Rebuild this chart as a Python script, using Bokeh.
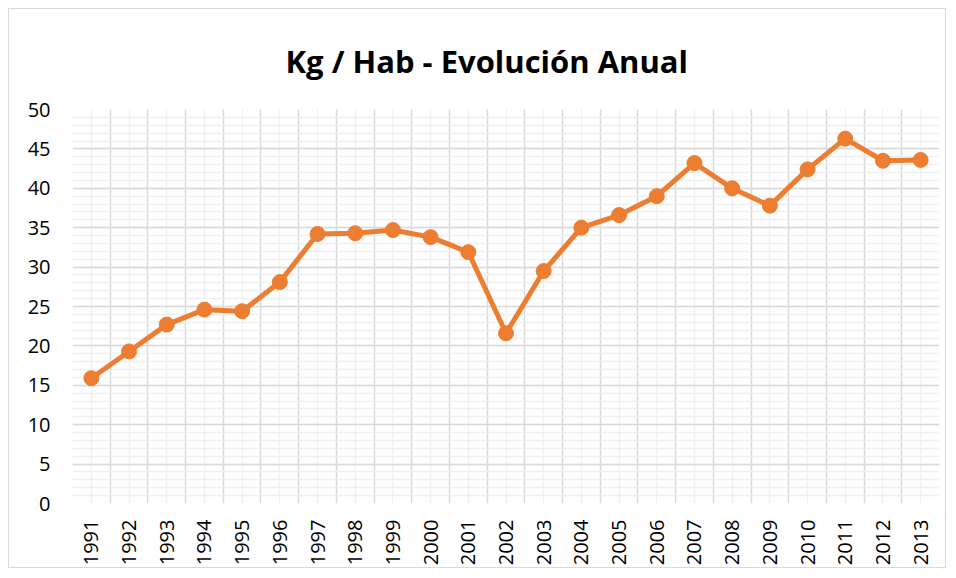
import math
from bokeh.plotting import figure
from bokeh.models import (ColumnDataSource, Range1d, FixedTicker, SingleIntervalTicker,
                          Grid, Title)
from bokeh.embed import file_html
from bokeh.resources import INLINE

years = list(range(1991, 2014))
kg_hab = [15.9, 19.3, 22.7, 24.6, 24.4, 28.1, 34.2, 34.3, 34.7, 33.8, 31.9, 21.6,
          29.5, 35.0, 36.6, 39.0, 43.2, 40.0, 37.8, 42.4, 46.3, 43.5, 43.6]
y_ticks = list(range(0, 51, 5))
title_text = "Kg / Hab - Evolución Anual"

FONT = "Open Sans"
ORANGE = "#ED7D31"

src = ColumnDataSource(data=dict(year=years, val=kg_hab))

p = figure(width=938, height=560, output_backend="svg", toolbar_location=None,
           x_range=Range1d(years[0] - 0.5, years[-1] + 0.5),
           y_range=Range1d(0, 50),
           min_border_left=63, min_border_right=8, min_border_top=99, min_border_bottom=66)
p.styles = {"border": "1px solid #d9d9d9", "margin-left": "8px", "margin-top": "8px"}
p.outline_line_color = None
p.background_fill_color = "white"
p.border_fill_color = "white"

p.title = Title(text=title_text, align="left", text_font=FONT, text_font_size="31px",
                text_font_style="bold", text_color="#000000", standoff=56, offset=213)

p.xgrid.visible = False
p.ygrid.visible = False

boundaries = [y - 0.5 for y in years] + [years[-1] + 0.5]
xg = Grid(dimension=0, ticker=FixedTicker(ticks=boundaries, minor_ticks=years),
          grid_line_color="#d9d9d9", grid_line_width=1.5,
          minor_grid_line_color="#f0f0f0", minor_grid_line_width=1.5)
yg = Grid(dimension=1, ticker=SingleIntervalTicker(interval=5, num_minor_ticks=5),
          grid_line_color="#d9d9d9", grid_line_width=1.5,
          minor_grid_line_color="#f0f0f0", minor_grid_line_width=1.5)
p.add_layout(xg)
p.add_layout(yg)

p.line("year", "val", source=src, line_color=ORANGE, line_width=5)
p.scatter("year", "val", source=src, size=15, fill_color=ORANGE, line_color=ORANGE)

p.xaxis.ticker = FixedTicker(ticks=years)
p.yaxis.ticker = FixedTicker(ticks=y_ticks)
for ax in (p.xaxis[0], p.yaxis[0]):
    ax.axis_line_color = None
    ax.major_tick_line_color = None
    ax.minor_tick_line_color = None
    ax.major_tick_out = 0
    ax.major_tick_in = 0
    ax.minor_tick_out = 0
    ax.major_label_text_font = FONT
    ax.major_label_text_font_size = "20px"
    ax.major_label_text_color = "#000000"
p.xaxis.major_label_orientation = math.pi / 2
p.xaxis.major_label_standoff = 16
p.yaxis.major_label_standoff = 22

open("out.html", "w").write(file_html(p, INLINE))
